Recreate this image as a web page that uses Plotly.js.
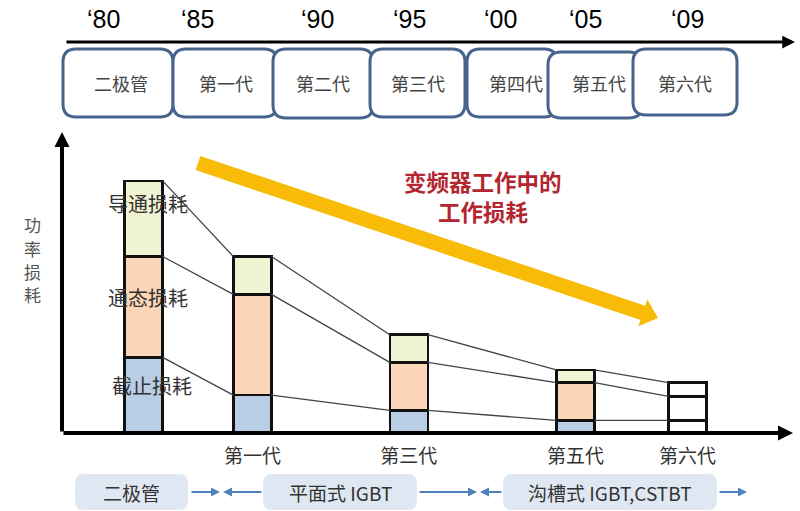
<!DOCTYPE html>
<html>
<head>
<meta charset="utf-8">
<script src="https://cdn.plot.ly/plotly-3.0.1.min.js"></script>
<style>
  html, body { margin: 0; padding: 0; background: #ffffff; }
  #chart { width: 800px; height: 511px; }
</style>
</head>
<body>
<div id="chart"></div>
<script>
// Generations plotted in the loss chart
const genLabels = ['', '第一代', '第三代', '第五代', '第六代'];
const genPos = [1.2, 2.8, 5.1, 7.55, 9.2];

// Power loss per component (arbitrary units)
const cutoffLoss = [3.0, 1.5, 0.9, 0.5, 0.5];   // 截止损耗
const onStateLoss = [4.0, 4.0, 1.9, 1.5, 0.95]; // 通态损耗
const conductLoss = [3.0, 1.5, 1.1, 0.5, 0.55]; // 导通损耗

// Timeline on top
const years = ['‘80', '‘85', '‘90', '‘95', '‘00', '‘05', '‘09'];
const eraNames = ['二极管', '第一代', '第二代', '第三代', '第四代', '第五代', '第六代'];

// Technology bands under the chart
const techNames = ['二极管', '平面式 IGBT', '沟槽式 IGBT,CSTBT'];

const COLORS = {
    CUTOFF: '#b9cde5',
    ONSTATE: '#fbd5b7',
    CONDUCT: '#f1f4d3',
    EMPTY: '#ffffff',
    OUTLINE: '#111111',
    CONNECT: '#444444',
    BOX_LINE: '#46648c',
    BAND: '#dfe8f2',
    BAND_ARROW: '#4f81bd',
    TREND: '#f8bb08',
    RED: '#b3262f',
    TEXT: '#444444'
};
const FONT = '"Noto Sans CJK SC", "Noto Sans", sans-serif';

const W = 800, H = 511;
const px = x => x / W;
const py = y => 1 - y / H;

const BAR_W = 0.56;

// stacked bar traces
function barTrace(vals, color, name) {
    return {
        type: 'bar',
        x: genPos,
        y: vals,
        width: BAR_W,
        name: name,
        marker: {
            color: vals.map((v, i) => i === vals.length - 1 ? COLORS.EMPTY : color),
            line: { color: COLORS.OUTLINE, width: 2.5 }
        },
        hoverinfo: 'skip'
    };
}

// cumulative tops of each layer
const level1 = cutoffLoss.slice();
const level2 = cutoffLoss.map((v, i) => v + onStateLoss[i]);
const level3 = level2.map((v, i) => v + conductLoss[i]);

function connectTrace(level) {
    const xs = [], ys = [];
    for (let i = 0; i < genPos.length - 1; i++) {
        xs.push(genPos[i] + BAR_W / 2, genPos[i + 1] - BAR_W / 2, null);
        ys.push(level[i], level[i + 1], null);
    }
    return {
        type: 'scatter', mode: 'lines', x: xs, y: ys,
        line: { color: COLORS.CONNECT, width: 1.3 },
        hoverinfo: 'skip', showlegend: false
    };
}

const data = [
    connectTrace(level1),
    connectTrace(level2),
    connectTrace(level3),
    barTrace(cutoffLoss, COLORS.CUTOFF, '截止损耗'),
    barTrace(onStateLoss, COLORS.ONSTATE, '通态损耗'),
    barTrace(conductLoss, COLORS.CONDUCT, '导通损耗')
];

const X_MAX = 10.75, Y_MAX = 11.94;

// rounded rectangle path in paper coords from pixel box
function roundRect(x0, y0, x1, y1, r) {
    const rx = r / W, ry = r / H;
    const L = px(x0), R = px(x1), T = py(y0), B = py(y1);
    return `M${L + rx},${T} L${R - rx},${T} Q${R},${T} ${R},${T - ry} ` +
           `L${R},${B + ry} Q${R},${B} ${R - rx},${B} L${L + rx},${B} ` +
           `Q${L},${B} ${L},${B + ry} L${L},${T - ry} Q${L},${T} ${L + rx},${T} Z`;
}

// thick arrow polygon (pixel input) in paper coords
function fatArrow(sx, sy, tx, ty, half, headLen, headHalf) {
    const dx = tx - sx, dy = ty - sy, len = Math.hypot(dx, dy);
    const ux = dx / len, uy = dy / len, nx = -uy, ny = ux;
    const bx = tx - ux * headLen, by = ty - uy * headLen;
    const pts = [
        [sx + nx * half, sy + ny * half],
        [bx + nx * half, by + ny * half],
        [bx + nx * headHalf, by + ny * headHalf],
        [tx, ty],
        [bx - nx * headHalf, by - ny * headHalf],
        [bx - nx * half, by - ny * half],
        [sx - nx * half, sy - ny * half]
    ];
    return 'M' + pts.map(p => px(p[0]) + ',' + py(p[1])).join(' L') + ' Z';
}

const eraBoxes = [
    [63, 49, 173, 117], [173, 49, 277, 117], [273, 49, 373, 118],
    [370, 49, 465, 117], [467, 49, 557, 117], [548, 52, 642, 118],
    [633, 49, 737, 115]
];
const eraText = [121, 226, 323, 418, 516, 599, 685];
const yearX = [103, 197, 317, 410, 500, 585, 687];

const techBoxes = [[75, 474, 188, 510], [263, 474, 417, 510], [503, 474, 717, 510]];

const shapes = [];
eraBoxes.forEach(b => shapes.push({
    type: 'path', xref: 'paper', yref: 'paper',
    path: roundRect(b[0], b[1], b[2], b[3], 13),
    fillcolor: '#ffffff', line: { color: COLORS.BOX_LINE, width: 3 }
}));
techBoxes.forEach(b => shapes.push({
    type: 'path', xref: 'paper', yref: 'paper',
    path: roundRect(b[0], b[1], b[2], b[3], 9),
    fillcolor: COLORS.BAND, line: { width: 0 }
}));
// trend arrow
shapes.push({
    type: 'path', xref: 'paper', yref: 'paper', layer: 'below',
    path: fatArrow(198, 163, 658, 318, 7.5, 16, 14),
    fillcolor: COLORS.TREND, line: { width: 0 }
});

const annotations = [];
function label(x, y, text, font, extra) {
    annotations.push(Object.assign({
        xref: 'paper', yref: 'paper', x: px(x), y: py(y),
        xanchor: 'center', yanchor: 'middle',
        text: text, showarrow: false, font: font
    }, extra || {}));
}

// timeline arrow
annotations.push({
    xref: 'paper', yref: 'paper', x: px(795), y: py(42),
    ax: -(795 - 65), ay: 0, text: '', showarrow: true,
    arrowhead: 2, arrowsize: 0.85, arrowwidth: 3, arrowcolor: '#000000'
});
years.forEach((t, i) => label(yearX[i], 19, t,
    { family: '"Liberation Sans", Arial, sans-serif', size: 25, color: '#000000' }));
eraNames.forEach((t, i) => label(eraText[i], 83, t,
    { family: FONT, size: 18, color: COLORS.TEXT }));

// axis arrows
annotations.push({
    xref: 'x', yref: 'y', axref: 'x', ayref: 'y',
    x: X_MAX, y: 0, ax: 0, ay: 0, text: '', showarrow: true,
    arrowhead: 2, arrowsize: 0.75, arrowwidth: 4, arrowcolor: '#000000'
});
annotations.push({
    xref: 'x', yref: 'y', axref: 'x', ayref: 'y',
    x: 0, y: Y_MAX, ax: 0, ay: 0, text: '', showarrow: true,
    arrowhead: 2, arrowsize: 0.75, arrowwidth: 4, arrowcolor: '#000000'
});

// y axis title, one character per row
'功率损耗'.split('').forEach((ch, i) => label(32, 225 + i * 23, ch,
    { family: FONT, size: 17, color: '#555555' }, { borderpad: 0 }));

// series names over first bar
label(148, 203, '导通损耗', { family: FONT, size: 20, color: '#333333' });
label(148, 297, '通态损耗', { family: FONT, size: 20, color: '#333333' });
label(152, 385, '截止损耗', { family: FONT, size: 20, color: '#333333' });

// trend caption
label(483, 181, '<b>变频器工作中的</b>', { family: FONT, size: 22.5, color: COLORS.RED }, { borderpad: 0 });
label(483, 211, '<b>工作损耗</b>', { family: FONT, size: 22.5, color: COLORS.RED }, { borderpad: 0 });

// technology bands
[131, 340, 610].forEach((c, i) => label(c, 492, techNames[i],
    { family: FONT, size: 19, color: '#333333' }));
[[220, 190], [223, 263], [477, 418], [480, 503], [747, 718]].forEach(a => annotations.push({
    xref: 'paper', yref: 'paper', x: px(a[0]), y: py(492),
    ax: a[1] - a[0], ay: 0, text: '', showarrow: true,
    arrowhead: 2, arrowsize: 0.9, arrowwidth: 2, arrowcolor: COLORS.BAND_ARROW
}));

const layout = {
    width: W, height: H,
    margin: { l: 0, r: 0, t: 0, b: 0 },
    paper_bgcolor: '#ffffff', plot_bgcolor: '#ffffff',
    barmode: 'stack', bargap: 0,
    showlegend: false,
    xaxis: {
        domain: [px(62), px(793)], range: [0, X_MAX],
        showgrid: false, zeroline: false, showline: false,
        tickvals: genPos, ticktext: genLabels, ticks: '',
        ticklabelstandoff: 10,
        tickfont: { family: FONT, size: 19, color: '#333333' },
        fixedrange: true
    },
    yaxis: {
        domain: [py(433), py(132)], range: [0, Y_MAX],
        showgrid: false, zeroline: false, showline: false,
        showticklabels: false, ticks: '', fixedrange: true
    },
    shapes: shapes,
    annotations: annotations
};

Plotly.newPlot('chart', data, layout, { displayModeBar: false, staticPlot: true });
</script>
</body>
</html>
